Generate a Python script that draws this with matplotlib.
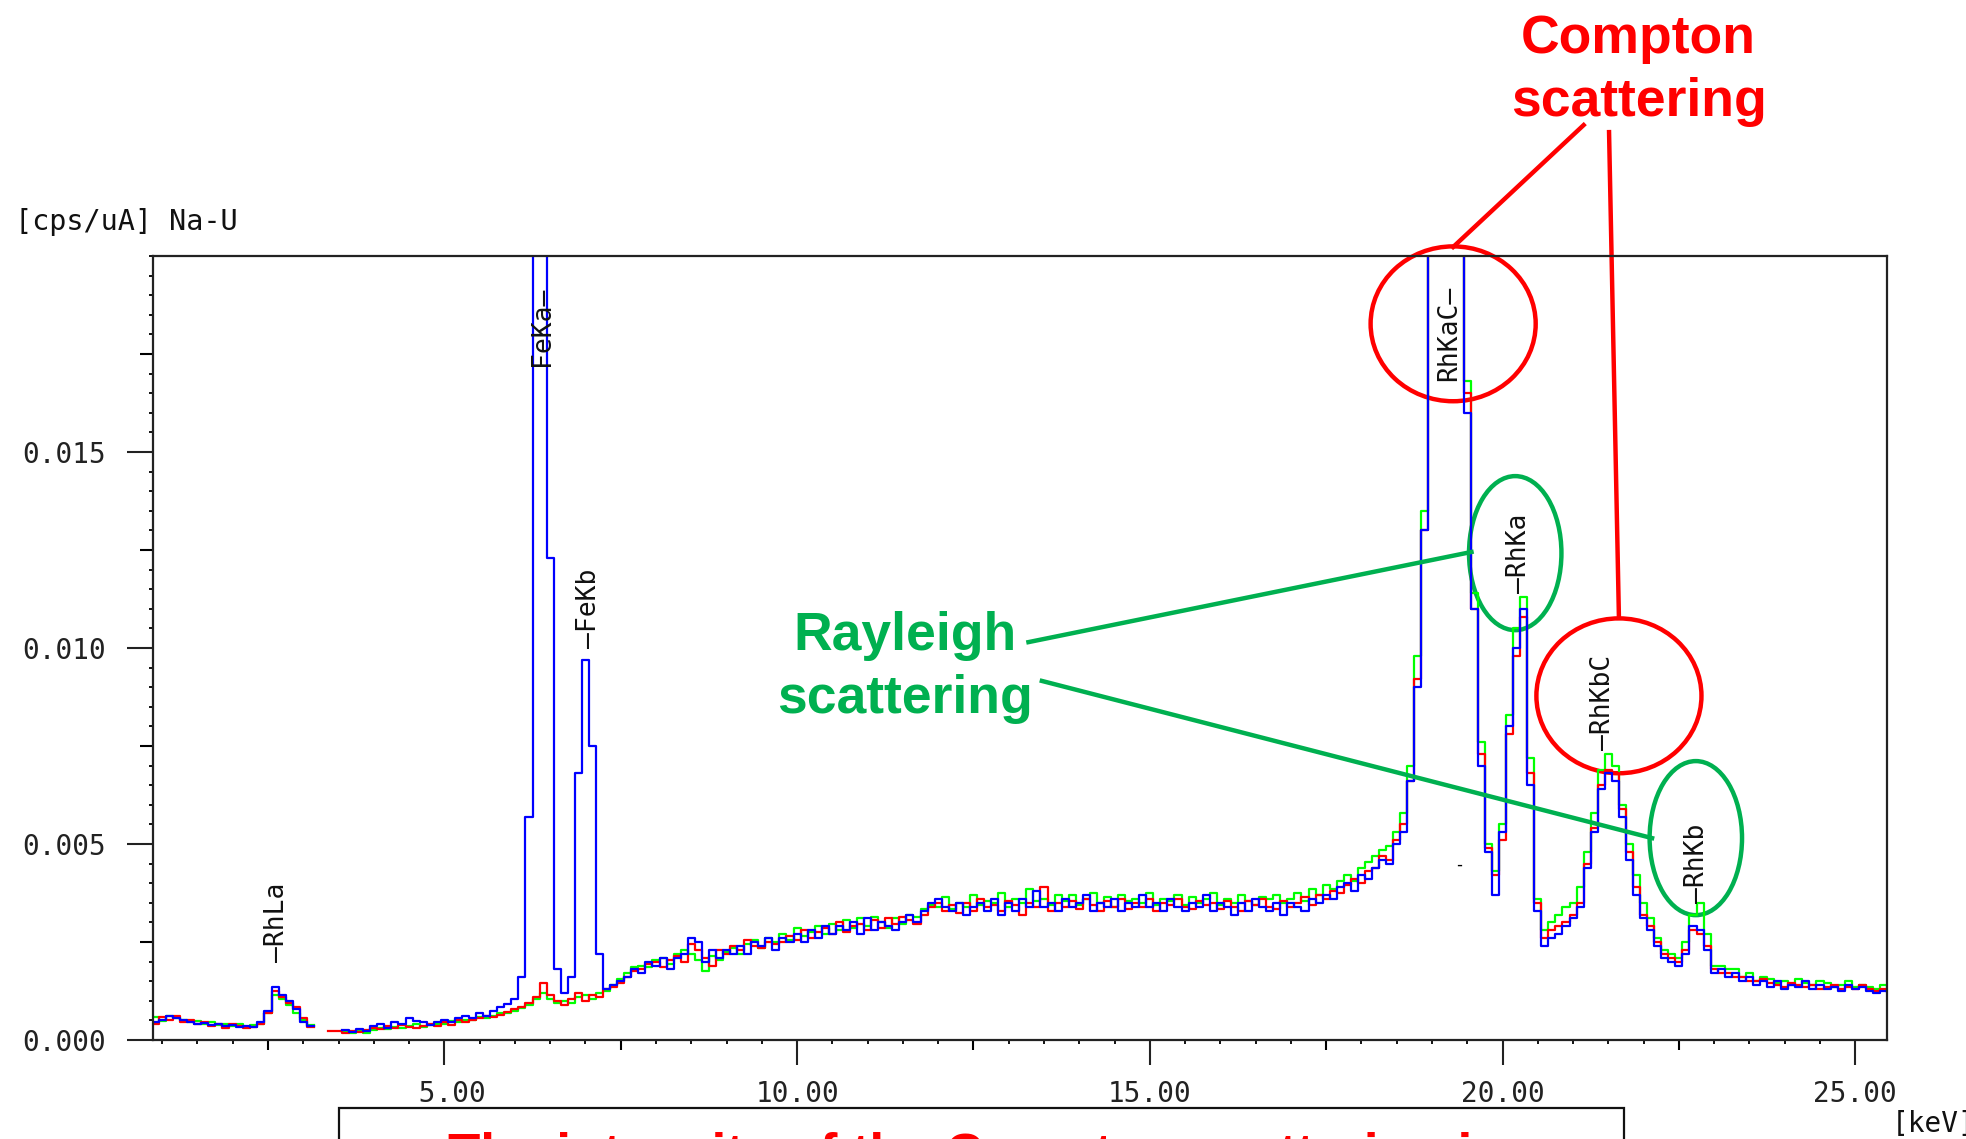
import numpy as np
import matplotlib.pyplot as plt
from matplotlib.patches import Ellipse, Rectangle
from matplotlib.ticker import MultipleLocator, FormatStrFormatter

nan = np.nan

# channel centres, 0.8 .. 25.5 keV in 0.1 keV bins
energy = np.round(np.arange(8, 256) * 0.1, 1)

# intensities in 1e-3 cps/uA, one row per 1 keV starting at 0.8, 1.8, 2.8 ...
blue = [
    0.48, 0.45, 0.52, 0.60, 0.55, 0.50, 0.47, 0.42, 0.44, 0.38,
    0.40, 0.35, 0.38, 0.33, 0.36, 0.32, 0.45, 0.75, 1.35, 1.15,
    1.00, 0.78, 0.45, 0.35, nan, nan, nan, nan, 0.25, 0.20,
    0.28, 0.22, 0.35, 0.42, 0.30, 0.45, 0.40, 0.55, 0.48, 0.45,
    0.38, 0.46, 0.52, 0.45, 0.55, 0.62, 0.55, 0.68, 0.62, 0.75,
    0.85, 0.92, 1.05, 1.60, 5.70, 30.0, 30.0, 12.3, 1.80, 1.20,
    1.60, 6.80, 9.70, 7.50, 2.20, 1.30, 1.40, 1.50, 1.60, 1.80,
    1.70, 2.00, 1.90, 2.10, 1.80, 2.10, 2.20, 2.60, 2.50, 2.00,
    2.30, 2.10, 2.30, 2.20, 2.40, 2.20, 2.50, 2.40, 2.60, 2.30,
    2.60, 2.50, 2.70, 2.50, 2.80, 2.60, 2.90, 2.70, 2.90, 2.80,
    3.00, 2.70, 3.10, 2.80, 3.00, 2.90, 2.80, 3.00, 3.20, 3.00,
    3.30, 3.50, 3.60, 3.40, 3.30, 3.50, 3.20, 3.40, 3.50, 3.30,
    3.60, 3.20, 3.50, 3.30, 3.60, 3.40, 3.80, 3.40, 3.50, 3.30,
    3.60, 3.40, 3.50, 3.70, 3.30, 3.50, 3.40, 3.60, 3.30, 3.50,
    3.40, 3.70, 3.40, 3.50, 3.30, 3.60, 3.40, 3.30, 3.50, 3.40,
    3.70, 3.30, 3.50, 3.40, 3.20, 3.50, 3.30, 3.60, 3.40, 3.30,
    3.50, 3.20, 3.50, 3.40, 3.30, 3.60, 3.50, 3.70, 3.60, 3.90,
    4.00, 3.80, 4.20, 4.10, 4.40, 4.60, 4.50, 5.00, 5.30, 6.60,
    9.00, 13.0, 30.0, 30.0, 30.0, 30.0, 30.0, 16.0, 11.0, 7.00,
    4.80, 3.70, 5.30, 8.00, 10.0, 11.0, 6.50, 3.30, 2.40, 2.60,
    2.70, 2.90, 3.10, 3.40, 4.40, 5.30, 6.40, 6.80, 6.60, 5.70,
    4.60, 3.70, 3.10, 2.80, 2.40, 2.10, 2.00, 1.90, 2.20, 2.90,
    2.80, 2.30, 1.70, 1.80, 1.60, 1.70, 1.50, 1.60, 1.40, 1.50,
    1.35, 1.50, 1.30, 1.40, 1.35, 1.50, 1.30, 1.40, 1.30, 1.35,
    1.25, 1.40, 1.30, 1.35, 1.25, 1.20, 1.25, 1.20,
]

red = [
    0.55, 0.42, 0.58, 0.50, 0.60, 0.45, 0.50, 0.40, 0.45, 0.35,
    0.42, 0.30, 0.40, 0.35, 0.30, 0.34, 0.40, 0.70, 1.25, 1.10,
    0.95, 0.85, 0.55, 0.32, nan, nan, 0.22, 0.22, 0.18, 0.22,
    0.20, 0.25, 0.30, 0.28, 0.35, 0.30, 0.38, 0.32, 0.30, 0.36,
    0.40, 0.35, 0.45, 0.38, 0.50, 0.45, 0.52, 0.55, 0.60, 0.58,
    0.65, 0.72, 0.78, 0.85, 0.95, 1.10, 1.45, 1.15, 1.00, 0.90,
    1.05, 1.20, 1.00, 1.15, 1.10, 1.30, 1.35, 1.45, 1.60, 1.75,
    1.80, 1.95, 2.00, 1.85, 2.05, 2.15, 2.00, 2.45, 2.30, 2.10,
    1.90, 2.30, 2.20, 2.40, 2.30, 2.55, 2.40, 2.35, 2.50, 2.45,
    2.50, 2.65, 2.55, 2.80, 2.60, 2.75, 2.85, 2.70, 3.00, 2.75,
    2.90, 2.95, 2.80, 3.05, 2.85, 3.10, 2.95, 3.15, 3.05, 2.95,
    3.20, 3.40, 3.50, 3.30, 3.45, 3.25, 3.50, 3.30, 3.60, 3.40,
    3.45, 3.30, 3.55, 3.45, 3.20, 3.50, 3.40, 3.90, 3.30, 3.50,
    3.40, 3.55, 3.35, 3.60, 3.45, 3.30, 3.55, 3.40, 3.60, 3.35,
    3.50, 3.40, 3.60, 3.30, 3.50, 3.45, 3.60, 3.40, 3.35, 3.55,
    3.45, 3.50, 3.35, 3.55, 3.40, 3.30, 3.55, 3.45, 3.60, 3.40,
    3.35, 3.55, 3.40, 3.50, 3.65, 3.45, 3.70, 3.60, 3.80, 3.75,
    3.95, 4.10, 4.00, 4.30, 4.40, 4.70, 4.60, 5.10, 5.50, 6.60,
    9.20, 13.0, 30.0, 30.0, 30.0, 30.0, 30.0, 16.5, 11.0, 7.30,
    4.90, 4.20, 5.10, 7.80, 9.80, 10.8, 6.80, 3.50, 2.60, 2.80,
    2.90, 3.00, 3.20, 3.50, 4.50, 5.40, 6.50, 6.90, 6.80, 5.90,
    4.80, 3.90, 3.20, 2.90, 2.50, 2.20, 2.10, 2.00, 2.30, 2.80,
    2.70, 2.40, 1.80, 1.70, 1.70, 1.60, 1.60, 1.50, 1.50, 1.55,
    1.45, 1.40, 1.35, 1.45, 1.40, 1.35, 1.40, 1.30, 1.35, 1.40,
    1.30, 1.35, 1.30, 1.40, 1.30, 1.25, 1.30, 1.25,
]

green = [
    0.52, 0.58, 0.48, 0.62, 0.55, 0.52, 0.45, 0.48, 0.42, 0.46,
    0.38, 0.40, 0.36, 0.42, 0.34, 0.38, 0.42, 0.68, 1.15, 1.05,
    0.90, 0.70, 0.50, 0.38, nan, nan, nan, nan, 0.20, 0.18,
    0.22, 0.18, 0.25, 0.30, 0.28, 0.33, 0.30, 0.35, 0.40, 0.34,
    0.38, 0.42, 0.40, 0.48, 0.45, 0.52, 0.50, 0.58, 0.55, 0.62,
    0.70, 0.68, 0.75, 0.82, 0.90, 1.05, 1.20, 1.05, 0.95, 1.00,
    0.95, 1.10, 1.15, 1.05, 1.20, 1.25, 1.40, 1.55, 1.70, 1.85,
    1.90, 1.85, 2.05, 2.10, 1.95, 2.20, 2.30, 2.20, 2.05, 1.75,
    2.15, 2.05, 2.25, 2.35, 2.20, 2.45, 2.55, 2.35, 2.60, 2.50,
    2.70, 2.55, 2.85, 2.65, 2.75, 2.90, 2.70, 2.95, 2.80, 3.05,
    2.85, 3.10, 2.90, 3.15, 3.00, 2.85, 3.10, 2.95, 3.20, 3.15,
    3.35, 3.45, 3.40, 3.65, 3.35, 3.50, 3.40, 3.70, 3.45, 3.55,
    3.50, 3.75, 3.40, 3.60, 3.50, 3.85, 3.55, 3.60, 3.45, 3.70,
    3.55, 3.70, 3.45, 3.60, 3.75, 3.50, 3.65, 3.40, 3.70, 3.55,
    3.60, 3.50, 3.75, 3.45, 3.60, 3.55, 3.70, 3.45, 3.65, 3.50,
    3.60, 3.75, 3.45, 3.60, 3.50, 3.70, 3.55, 3.45, 3.65, 3.60,
    3.70, 3.50, 3.60, 3.75, 3.55, 3.85, 3.70, 3.95, 3.85, 4.05,
    4.20, 4.05, 4.40, 4.55, 4.70, 4.85, 4.95, 5.30, 5.80, 7.00,
    9.80, 13.5, 30.0, 30.0, 30.0, 30.0, 30.0, 16.8, 11.4, 7.60,
    5.00, 4.30, 5.50, 8.30, 10.5, 11.3, 7.20, 3.60, 2.80, 3.00,
    3.20, 3.40, 3.50, 3.90, 4.80, 5.80, 6.90, 7.30, 7.00, 6.00,
    5.00, 4.20, 3.50, 3.10, 2.60, 2.30, 2.20, 2.10, 2.50, 3.20,
    3.50, 2.70, 1.90, 1.90, 1.80, 1.80, 1.60, 1.70, 1.50, 1.60,
    1.55, 1.45, 1.50, 1.40, 1.55, 1.45, 1.40, 1.50, 1.45, 1.35,
    1.40, 1.50, 1.35, 1.40, 1.35, 1.30, 1.40, 1.30,
]

# line markers: label, energy (keV), bottom of the label (1e-3 cps/uA)
peak_names = ["\u2014RhLa", "FeKa\u2014", "\u2014FeKb", "RhKaC\u2014",
              "\u2014RhKa", "\u2014RhKbC", "\u2014RhKb"]
peak_energy = [2.63, 6.38, 7.05, 19.25, 20.24, 21.43, 22.76]
peak_label_base = [2.0, 17.2, 10.0, 16.8, 11.4, 7.4, 3.5]

MONO = "DejaVu Sans Mono"
RED = "#ff0000"
GREEN = "#00b050"
W, H = 1966, 1139

fig = plt.figure(figsize=(W / 100, H / 100), dpi=100)
ax = fig.add_axes([153 / W, 1 - 1040 / H, (1887 - 153) / W, (1040 - 256) / H])

for vals, col in ((green, "#00ff00"), (red, "#ff0000"), (blue, "#0000ff")):
    ax.plot(energy, np.array(vals) * 1e-3, color=col, lw=1.6,
            drawstyle="steps-mid")

ax.set_xlim(0.87, 25.45)
ax.set_ylim(0, 0.0200)

for s in ax.spines.values():
    s.set_linewidth(1.6)
    s.set_color("#222222")

ax.xaxis.set_major_locator(MultipleLocator(5))
ax.xaxis.set_minor_locator(MultipleLocator(0.5))
ax.xaxis.set_major_formatter(FormatStrFormatter("%5.2f"))
ax.set_yticks([0.0, 0.005, 0.010, 0.015])
ax.yaxis.set_minor_locator(MultipleLocator(0.0005))
ax.yaxis.set_major_formatter(FormatStrFormatter("%.3f"))
ax.tick_params(axis="x", which="major", length=18, width=1.5, pad=11)
ax.tick_params(axis="y", which="major", length=19, width=1.5, pad=15)
ax.tick_params(which="minor", length=3, width=1.3)
ax.tick_params(direction="out", labelsize=20, colors="#222222")
for lab in ax.get_xticklabels() + ax.get_yticklabels():
    lab.set_family(MONO)

# half-step ticks, a bit longer than the minor ones
secx = ax.secondary_xaxis("bottom")
secx.set_xticks([2.5, 7.5, 12.5, 17.5, 22.5])
secx.tick_params(length=7, width=1.5, labelbottom=False)
secx.spines["bottom"].set_visible(False)
secy = ax.secondary_yaxis("left")
secy.set_yticks([0.0025, 0.0075, 0.0125, 0.0175])
secy.tick_params(length=9.5, width=1.5, labelleft=False)
secy.spines["left"].set_visible(False)

for name, e, b in zip(peak_names, peak_energy, peak_label_base):
    ax.text(e, b * 1e-3, name, rotation=90, ha="center", va="bottom",
            fontsize=19, family=MONO, color="#111111")
ax.text(19.39, 4.46e-3, "-", ha="center", va="center", fontsize=12,
        family=MONO)

fig.text(15 / W, 1 - 222 / H, "[cps/uA] Na-U", fontsize=20.5, family=MONO,
         va="center", color="#111111")
fig.text(1892 / W, 1 - 1110 / H, "[keV]", fontsize=20, family=MONO,
         va="top", color="#111111")

# scattering call-outs
ann = dict(fill=False, lw=3.2, clip_on=False)
ax.add_patch(Ellipse((19.30, 18.27e-3), 2.34, 3.95e-3, ec=RED, **ann))
ax.add_patch(Ellipse((21.65, 8.78e-3), 2.34, 3.95e-3, ec=RED, **ann))
ax.add_patch(Ellipse((20.18, 12.42e-3), 1.31, 3.93e-3, ec=GREEN, **ann))
ax.add_patch(Ellipse((22.74, 5.15e-3), 1.31, 3.93e-3, ec=GREEN, **ann))

ax.plot([21.15, 19.30], [23.34e-3, 20.23e-3], color=RED, lw=3.2, clip_on=False)
ax.plot([21.51, 21.65], [23.16e-3, 10.77e-3], color=RED, lw=3.2, clip_on=False)
ax.plot([13.28, 19.56], [10.15e-3, 12.45e-3], color=GREEN, lw=3.2, clip_on=False)
ax.plot([13.47, 22.12], [9.16e-3, 5.15e-3], color=GREEN, lw=3.2, clip_on=False)

bold = dict(fontsize=38.5, fontweight="bold", family="Liberation Sans",
            ha="center", va="baseline", clip_on=False)
ax.text(21.93, 25.17e-3, "Compton", color=RED, **bold)
ax.text(21.93, 23.57e-3, "scattering", color=RED, **bold)
ax.text(11.53, 9.95e-3, "Rayleigh", color=GREEN, **bold)
ax.text(11.53, 8.35e-3, "scattering", color=GREEN, **bold)

# caption box running off the bottom edge
fig.patches.append(Rectangle((339 / W, -0.1), (1624 - 339) / W,
                             0.1 + 1 - 1108 / H, transform=fig.transFigure,
                             fill=False, ec="#111111", lw=1.6))
fig.text(448 / W, 1 - 1171 / H, "The intensity of the Compton scattering is",
         fontsize=38, fontweight="bold", family="Liberation Sans", color=RED,
         va="baseline")

fig.savefig("out.png", dpi=100)
